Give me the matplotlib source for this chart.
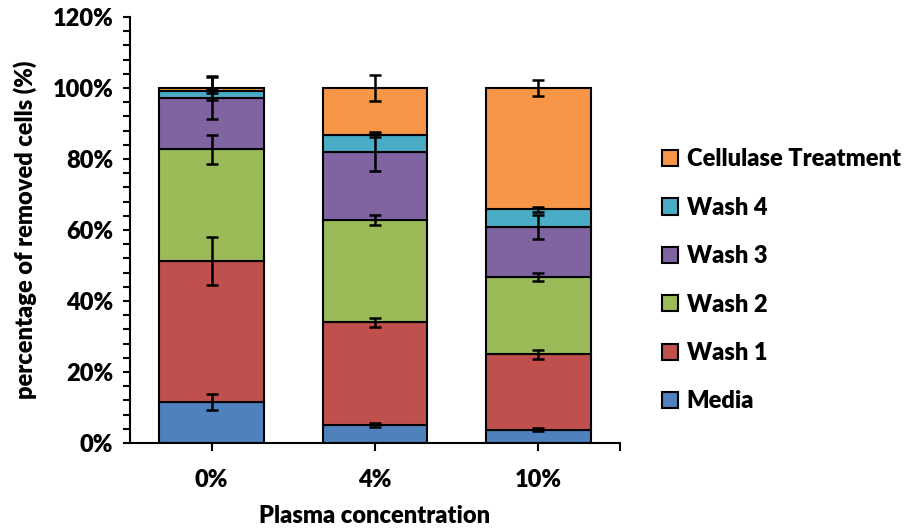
import matplotlib
matplotlib.use("Agg")
import matplotlib.pyplot as plt
import numpy as np
from matplotlib.patches import Patch
from matplotlib.ticker import MultipleLocator, FuncFormatter

plt.rcParams['font.family'] = ['Lato', 'DejaVu Sans']
W = 'heavy'
plt.rcParams['font.weight'] = W

categories = ['0%', '4%', '10%']
series_names = ['Media', 'Wash 1', 'Wash 2', 'Wash 3', 'Wash 4', 'Cellulase Treatment']
media = [11.5, 5.1, 3.7]
wash1 = [39.8, 28.9, 21.3]
wash2 = [31.5, 28.8, 21.7]
wash3 = [14.4, 19.3, 14.1]
wash4 = [1.9, 4.7, 5.0]
cellulase = [0.9, 13.2, 34.2]
media_err = [2.3, 0.5, 0.4]
wash1_err = [6.7, 1.3, 1.3]
wash2_err = [4.1, 1.3, 1.2]
wash3_err = [6.0, 5.4, 3.3]
wash4_err = [0.5, 0.5, 0.8]
cellulase_err = [3.4, 3.7, 2.2]

colors = ['#4F81BD', '#C0504D', '#9BBB59', '#8064A2', '#4BACC6', '#F79646']
values = [media, wash1, wash2, wash3, wash4, cellulase]
errors = [media_err, wash1_err, wash2_err, wash3_err, wash4_err, cellulase_err]

FS = 17

fig = plt.figure(figsize=(9.13, 5.29), dpi=100)
ax = fig.add_axes([130/913, 1 - 443/529, 490/913, 426/529])

x = np.arange(len(categories))
bottom = np.zeros(len(categories))
width = 0.64
for vals, errs, col in zip(values, errors, colors):
    v = np.array(vals)
    ax.bar(x, v, width, bottom=bottom, color=col, edgecolor='black', linewidth=1.5, zorder=2)
    bottom = bottom + v
    ax.errorbar(x, bottom, yerr=errs, fmt='none', ecolor='black', elinewidth=1.8,
                capsize=4.5, capthick=1.8, zorder=3)

ax.set_xlim(-0.5, 2.5)
ax.set_ylim(0, 120)
ax.yaxis.set_major_locator(MultipleLocator(20))
ax.yaxis.set_minor_locator(MultipleLocator(4))
ax.yaxis.set_major_formatter(FuncFormatter(lambda v, p: f'{int(round(v))}%'))
ax.set_xticks(list(x) + [2.5])
ax.set_xticklabels(categories + [''])
ax.spines['top'].set_visible(False)
ax.spines['right'].set_visible(False)
ax.spines['left'].set_linewidth(1.5)
ax.spines['bottom'].set_linewidth(1.5)
ax.tick_params(axis='y', which='both', direction='out', length=5, width=1.5, labelsize=FS, pad=7)
ax.tick_params(axis='x', which='both', direction='out', length=6, width=1.5, labelsize=FS, pad=13)
for lbl in ax.get_xticklabels() + ax.get_yticklabels():
    lbl.set_fontweight(W)

ax.set_ylabel('percentage of removed cells (%)', fontsize=17, fontweight=W, labelpad=11)
ax.set_xlabel('Plasma concentration', fontsize=FS, fontweight=W, labelpad=10)

handles = [Patch(facecolor=c, edgecolor='black', linewidth=1.5, label=n) for c, n in zip(colors, series_names)]
handles = handles[::-1]
fig.legend(handles=handles, loc='upper left', bbox_to_anchor=(641/913, 1 - 127/529),
           frameon=False, handlelength=0.68, handleheight=0.68,
           handletextpad=0.35, labelspacing=1.12, prop={'weight': W, 'size': FS})

fig.savefig('out.png', dpi=100)
